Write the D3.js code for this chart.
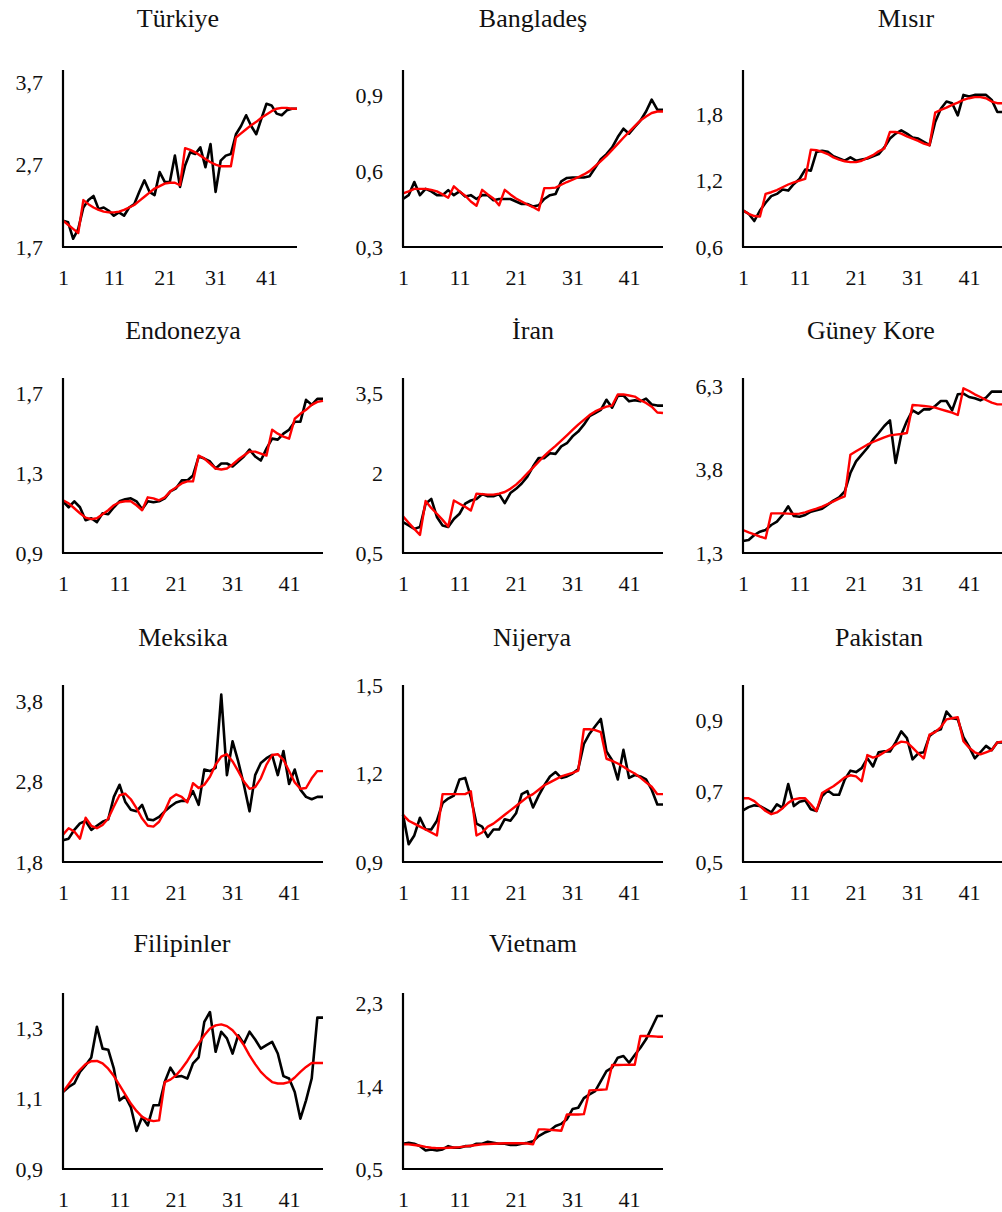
<!DOCTYPE html>
<html>
<head>
<meta charset="utf-8">
<script src="https://cdn.jsdelivr.net/npm/d3@7"></script>
<style>
  body { margin: 0; background: #fff; }
</style>
</head>
<body>
<div id="chart"></div>
<script>
// Country names (panel titles), left to right, top to bottom
const countries = ["Türkiye", "Bangladeş", "Mısır", "Endonezya", "İran", "Güney Kore",
  "Meksika", "Nijerya", "Pakistan", "Filipinler", "Vietnam"];

// Category axis labels
const xTicks = [1, 11, 21, 31, 41];

const turkiyeSeries = [2.02, 2.0, 1.8, 1.92, 2.18, 2.27, 2.32, 2.16, 2.18, 2.14, 2.08, 2.12, 2.08, 2.18, 2.22, 2.37, 2.51, 2.37, 2.33, 2.61, 2.49, 2.49, 2.81, 2.43, 2.69, 2.85, 2.83, 2.91, 2.67, 2.95, 2.37, 2.75, 2.81, 2.83, 3.07, 3.17, 3.3, 3.17, 3.07, 3.26, 3.44, 3.42, 3.32, 3.3, 3.36, 3.38, 3.38];
const turkiyeFit = [2.02, 1.97, 1.92, 1.87, 2.27, 2.22, 2.18, 2.15, 2.13, 2.12, 2.12, 2.13, 2.15, 2.18, 2.21, 2.26, 2.31, 2.36, 2.41, 2.44, 2.47, 2.48, 2.48, 2.45, 2.9, 2.88, 2.85, 2.81, 2.77, 2.73, 2.7, 2.68, 2.68, 2.68, 3.03, 3.08, 3.13, 3.18, 3.22, 3.27, 3.31, 3.35, 3.38, 3.39, 3.39, 3.38, 3.38];
const turkiyeTicks = [1.7, 2.7, 3.7];
const turkiyeMax = 3.85;

const bangladesSeries = [0.49, 0.505, 0.557, 0.505, 0.53, 0.52, 0.505, 0.505, 0.525, 0.505, 0.52, 0.5, 0.505, 0.49, 0.505, 0.505, 0.485, 0.49, 0.49, 0.49, 0.48, 0.47, 0.47, 0.46, 0.465, 0.49, 0.505, 0.51, 0.56, 0.573, 0.575, 0.575, 0.575, 0.58, 0.613, 0.647, 0.667, 0.694, 0.735, 0.768, 0.748, 0.775, 0.8, 0.836, 0.883, 0.843, 0.843];
const bangladesFit = [0.512, 0.52, 0.53, 0.53, 0.53, 0.526, 0.52, 0.508, 0.495, 0.54, 0.52, 0.503, 0.48, 0.463, 0.526, 0.508, 0.492, 0.465, 0.526, 0.508, 0.492, 0.48, 0.468, 0.458, 0.445, 0.533, 0.533, 0.535, 0.546, 0.557, 0.566, 0.576, 0.587, 0.6, 0.62, 0.64, 0.66, 0.684, 0.708, 0.732, 0.755, 0.778, 0.8, 0.816, 0.83, 0.836, 0.836];
const bangladesTicks = [0.3, 0.6, 0.9];
const bangladesMax = 1.0;

const misirSeries = [0.93, 0.9, 0.835, 0.93, 1.0, 1.06, 1.08, 1.12, 1.11, 1.17, 1.215, 1.3, 1.29, 1.46, 1.47, 1.46, 1.42, 1.4, 1.38, 1.41, 1.38, 1.39, 1.4, 1.42, 1.44, 1.5, 1.58, 1.625, 1.655, 1.625, 1.59, 1.58, 1.55, 1.52, 1.73, 1.85, 1.915, 1.9, 1.79, 1.975, 1.96, 1.975, 1.975, 1.975, 1.93, 1.82, 1.82];
const misirFit = [0.93, 0.9, 0.88, 0.875, 1.08, 1.095, 1.115, 1.14, 1.165, 1.185, 1.2, 1.215, 1.48, 1.475, 1.46, 1.44, 1.41, 1.39, 1.375, 1.367, 1.367, 1.38, 1.405, 1.43, 1.465, 1.49, 1.64, 1.64, 1.625, 1.6, 1.58, 1.56, 1.535, 1.52, 1.815, 1.84, 1.86, 1.885, 1.905, 1.93, 1.945, 1.955, 1.955, 1.945, 1.915, 1.9, 1.9];
const misirTicks = [0.6, 1.2, 1.8];
const misirMax = 2.2;

const endonezyaSeries = [1.16, 1.13, 1.16, 1.13, 1.065, 1.075, 1.055, 1.1, 1.095, 1.13, 1.16, 1.17, 1.175, 1.16, 1.12, 1.16, 1.155, 1.16, 1.175, 1.21, 1.225, 1.265, 1.265, 1.29, 1.385, 1.375, 1.36, 1.325, 1.35, 1.35, 1.335, 1.36, 1.385, 1.42, 1.385, 1.365, 1.425, 1.475, 1.47, 1.5, 1.52, 1.56, 1.56, 1.67, 1.645, 1.675, 1.675];
const endonezyaFit = [1.165, 1.15, 1.125, 1.1, 1.078, 1.07, 1.075, 1.095, 1.115, 1.14, 1.155, 1.16, 1.16, 1.14, 1.115, 1.18, 1.175, 1.165, 1.18, 1.21, 1.23, 1.25, 1.26, 1.26, 1.39, 1.375, 1.35, 1.325, 1.32, 1.325, 1.345, 1.37, 1.39, 1.41, 1.41, 1.4, 1.39, 1.52, 1.5, 1.485, 1.475, 1.575, 1.6, 1.62, 1.645, 1.66, 1.665];
const endonezyaTicks = [0.9, 1.3, 1.7];
const endonezyaMax = 1.78;

const iranSeries = [1.08, 1.02, 0.955, 0.99, 1.43, 1.52, 1.18, 1.02, 0.99, 1.14, 1.24, 1.43, 1.49, 1.52, 1.61, 1.57, 1.57, 1.61, 1.44, 1.63, 1.71, 1.81, 1.94, 2.13, 2.29, 2.29, 2.38, 2.37, 2.51, 2.57, 2.7, 2.79, 2.92, 3.08, 3.14, 3.2, 3.39, 3.24, 3.46, 3.47, 3.36, 3.38, 3.36, 3.41, 3.3, 3.28, 3.28];
const iranFit = [1.19, 1.07, 0.955, 0.84, 1.48, 1.35, 1.24, 1.125, 1.0, 1.49, 1.43, 1.37, 1.3, 1.62, 1.61, 1.6, 1.6, 1.62, 1.65, 1.71, 1.79, 1.89, 2.0, 2.11, 2.22, 2.33, 2.43, 2.52, 2.62, 2.72, 2.82, 2.92, 3.01, 3.1, 3.17, 3.22, 3.26, 3.28, 3.49, 3.49, 3.47, 3.45, 3.38, 3.33, 3.26, 3.15, 3.14];
const iranTicks = [0.5, 2, 3.5];
const iranMax = 3.8;

const koreSeries = [1.66, 1.69, 1.84, 1.94, 1.99, 2.14, 2.24, 2.44, 2.7, 2.41, 2.39, 2.44, 2.54, 2.58, 2.63, 2.75, 2.87, 2.97, 3.15, 3.7, 4.05, 4.25, 4.45, 4.7, 4.9, 5.11, 5.28, 4.0, 4.85, 5.26, 5.58, 5.48, 5.61, 5.61, 5.71, 5.86, 5.86, 5.58, 6.06, 6.08, 5.98, 5.94, 5.88, 5.96, 6.14, 6.14, 6.14];
const koreFit = [1.99, 1.92, 1.86, 1.79, 1.74, 2.49, 2.49, 2.49, 2.48, 2.47, 2.48, 2.52, 2.58, 2.63, 2.69, 2.77, 2.85, 2.93, 3.0, 4.25, 4.35, 4.45, 4.55, 4.63, 4.7, 4.77, 4.83, 4.85, 4.87, 4.9, 5.74, 5.73, 5.71, 5.69, 5.66, 5.61, 5.56, 5.51, 5.44, 6.24, 6.16, 6.06, 5.98, 5.89, 5.81, 5.76, 5.76];
const koreTicks = [1.3, 3.8, 6.3];
const koreMax = 6.55;

const meksikaSeries = [2.07, 2.09, 2.2, 2.28, 2.31, 2.2, 2.25, 2.3, 2.33, 2.61, 2.76, 2.55, 2.45, 2.43, 2.51, 2.33, 2.32, 2.36, 2.43, 2.49, 2.54, 2.56, 2.56, 2.68, 2.51, 2.95, 2.93, 2.97, 3.88, 2.88, 3.3, 3.05, 2.76, 2.43, 2.88, 3.03, 3.09, 3.13, 2.88, 3.18, 2.77, 2.95, 2.7, 2.61, 2.58, 2.61, 2.61];
const meksikaFit = [2.14, 2.22, 2.18, 2.09, 2.35, 2.25, 2.22, 2.26, 2.34, 2.49, 2.63, 2.65, 2.58, 2.47, 2.34, 2.25, 2.24, 2.3, 2.43, 2.59, 2.64, 2.61, 2.54, 2.78, 2.72, 2.76, 2.86, 3.01, 3.11, 3.14, 3.05, 2.93, 2.8, 2.71, 2.73, 2.84, 3.01, 3.13, 3.14, 3.07, 2.93, 2.79, 2.71, 2.72, 2.84, 2.93, 2.93];
const meksikaTicks = [1.8, 2.8, 3.8];
const meksikaMax = 4.0;

const nijeryaSeries = [1.06, 0.96, 0.99, 1.05, 1.01, 1.01, 1.04, 1.1, 1.115, 1.125, 1.18, 1.185, 1.12, 1.03, 1.02, 0.985, 1.01, 1.01, 1.045, 1.04, 1.065, 1.13, 1.14, 1.085, 1.125, 1.16, 1.19, 1.205, 1.185, 1.19, 1.2, 1.215, 1.3, 1.335, 1.36, 1.385, 1.275, 1.245, 1.18, 1.28, 1.185, 1.195, 1.19, 1.18, 1.145, 1.095, 1.095];
const nijeryaFit = [1.06, 1.04, 1.03, 1.02, 1.01, 1.0, 0.99, 1.13, 1.13, 1.13, 1.13, 1.13, 1.14, 0.99, 1.0, 1.02, 1.03, 1.045, 1.06, 1.075, 1.09, 1.105, 1.12, 1.13, 1.145, 1.16, 1.17, 1.18, 1.19, 1.196, 1.202, 1.21, 1.35, 1.35, 1.347, 1.34, 1.25, 1.243, 1.234, 1.223, 1.21, 1.2, 1.186, 1.17, 1.155, 1.13, 1.13];
const nijeryaTicks = [0.9, 1.2, 1.5];
const nijeryaMax = 1.5;

const pakistanSeries = [0.646, 0.655, 0.66, 0.658, 0.649, 0.64, 0.663, 0.653, 0.72, 0.658, 0.67, 0.674, 0.649, 0.644, 0.686, 0.702, 0.69, 0.69, 0.733, 0.758, 0.754, 0.765, 0.793, 0.77, 0.81, 0.813, 0.812, 0.838, 0.869, 0.85, 0.79, 0.807, 0.81, 0.856, 0.869, 0.875, 0.925, 0.906, 0.903, 0.853, 0.826, 0.793, 0.81, 0.828, 0.816, 0.838, 0.838];
const pakistanFit = [0.68, 0.68, 0.672, 0.658, 0.644, 0.635, 0.64, 0.652, 0.667, 0.677, 0.68, 0.68, 0.663, 0.644, 0.695, 0.705, 0.714, 0.726, 0.739, 0.745, 0.742, 0.728, 0.802, 0.795, 0.8, 0.81, 0.819, 0.832, 0.84, 0.838, 0.823, 0.807, 0.793, 0.86, 0.867, 0.881, 0.903, 0.906, 0.909, 0.841, 0.823, 0.81, 0.804, 0.81, 0.816, 0.838, 0.84];
const pakistanTicks = [0.5, 0.7, 0.9];
const pakistanMax = 1.0;

const filipinlerSeries = [1.119, 1.133, 1.143, 1.176, 1.195, 1.217, 1.304, 1.242, 1.239, 1.185, 1.095, 1.107, 1.076, 1.008, 1.048, 1.024, 1.081, 1.081, 1.147, 1.188, 1.162, 1.164, 1.157, 1.2, 1.217, 1.318, 1.346, 1.233, 1.29, 1.271, 1.228, 1.28, 1.256, 1.29, 1.268, 1.242, 1.252, 1.261, 1.228, 1.164, 1.157, 1.119, 1.043, 1.095, 1.157, 1.33, 1.33];
const filipinlerFit = [1.119, 1.141, 1.164, 1.182, 1.198, 1.206, 1.207, 1.2, 1.185, 1.164, 1.138, 1.112, 1.086, 1.065, 1.048, 1.04, 1.036, 1.038, 1.147, 1.154, 1.166, 1.185, 1.207, 1.233, 1.256, 1.28, 1.299, 1.308, 1.311, 1.306, 1.294, 1.275, 1.252, 1.223, 1.198, 1.176, 1.16, 1.147, 1.143, 1.143, 1.147, 1.16, 1.176, 1.19, 1.201, 1.201, 1.201];
const filipinlerTicks = [0.9, 1.1, 1.3];
const filipinlerMax = 1.4;

const vietnamSeries = [0.774, 0.785, 0.774, 0.748, 0.7, 0.712, 0.7, 0.712, 0.748, 0.73, 0.73, 0.748, 0.748, 0.774, 0.774, 0.795, 0.785, 0.774, 0.774, 0.76, 0.76, 0.774, 0.785, 0.8, 0.857, 0.893, 0.918, 0.966, 0.99, 1.04, 1.15, 1.165, 1.27, 1.31, 1.346, 1.454, 1.563, 1.6, 1.708, 1.726, 1.653, 1.737, 1.816, 1.907, 2.033, 2.16, 2.16];
const vietnamFit = [0.767, 0.767, 0.76, 0.752, 0.74, 0.73, 0.727, 0.727, 0.73, 0.734, 0.737, 0.745, 0.752, 0.76, 0.767, 0.77, 0.774, 0.777, 0.78, 0.78, 0.78, 0.78, 0.777, 0.767, 0.93, 0.93, 0.925, 0.92, 0.915, 1.092, 1.092, 1.092, 1.095, 1.353, 1.356, 1.36, 1.364, 1.628, 1.628, 1.63, 1.632, 1.632, 1.943, 1.943, 1.94, 1.936, 1.936];
const vietnamTicks = [0.5, 1.4, 2.3];
const vietnamMax = 2.41;

// Page layout: one entry per panel (pixels), kept apart from the data
const colX = [63, 403, 743];
const rowTop = [70, 378, 685, 993];
const rowBottom = [247, 553, 862, 1169];
const titleX = [178, 533, 906, 183, 533, 871, 183, 532, 879, 182, 533];
const titleY = [27, 339, 646, 952];
const plotWidths = [234, 260, 260, 260, 260, 260, 260, 260, 260, 260, 260];

const seriesList = [turkiyeSeries, bangladesSeries, misirSeries, endonezyaSeries, iranSeries,
  koreSeries, meksikaSeries, nijeryaSeries, pakistanSeries, filipinlerSeries, vietnamSeries];
const fitList = [turkiyeFit, bangladesFit, misirFit, endonezyaFit, iranFit, koreFit,
  meksikaFit, nijeryaFit, pakistanFit, filipinlerFit, vietnamFit];
const tickList = [turkiyeTicks, bangladesTicks, misirTicks, endonezyaTicks, iranTicks,
  koreTicks, meksikaTicks, nijeryaTicks, pakistanTicks, filipinlerTicks, vietnamTicks];
const maxList = [turkiyeMax, bangladesMax, misirMax, endonezyaMax, iranMax, koreMax,
  meksikaMax, nijeryaMax, pakistanMax, filipinlerMax, vietnamMax];

const width = 1002, height = 1212;
const serif = "'Liberation Serif', 'Times New Roman', serif";
const fmt = (v) => String(v).replace(".", ",");

const svg = d3.select("#chart").append("svg")
  .attr("width", width)
  .attr("height", height);

countries.forEach((name, i) => {
  const col = i % 3, row = Math.floor(i / 3);
  const left = colX[col];
  const top = rowTop[row], bottom = rowBottom[row];
  const values = seriesList[i];
  const fit = fitList[i];
  const ticks = tickList[i];

  const x = d3.scaleLinear()
    .domain([1, values.length])
    .range([left, left + plotWidths[i]]);
  const y = d3.scaleLinear()
    .domain([ticks[0], maxList[i]])
    .range([bottom, top]);

  const g = svg.append("g");

  // Title
  g.append("text")
    .attr("x", titleX[i])
    .attr("y", titleY[row])
    .attr("text-anchor", "middle")
    .style("font-family", serif)
    .style("font-size", "26px")
    .attr("fill", "#111")
    .text(name);

  // Lines: observed (black) then fitted (red) on top
  const line = d3.line()
    .x((d, k) => x(k + 1))
    .y((d) => y(d));

  g.append("path")
    .datum(values)
    .attr("fill", "none")
    .attr("stroke", "#000")
    .attr("stroke-width", 2.6)
    .attr("stroke-linejoin", "round")
    .attr("d", line);

  g.append("path")
    .datum(fit)
    .attr("fill", "none")
    .attr("stroke", "#ff0000")
    .attr("stroke-width", 2.4)
    .attr("stroke-linejoin", "round")
    .attr("d", line);

  // Y axis: line plus labels, no tick marks
  const yAxis = g.append("g")
    .attr("transform", `translate(${left},0)`)
    .call(d3.axisLeft(y).tickValues(ticks).tickSize(0).tickPadding(20).tickFormat(fmt));
  yAxis.select(".domain").attr("stroke", "#000").attr("stroke-width", 2.2)
    .attr("d", `M0,${top}V${bottom}`);
  yAxis.selectAll("text")
    .style("font-family", serif)
    .style("font-size", "22px")
    .attr("fill", "#111");

  // X axis: line plus category labels
  const xAxis = g.append("g")
    .attr("transform", `translate(0,${bottom})`)
    .call(d3.axisBottom(x).tickValues(xTicks).tickSize(0).tickPadding(22).tickFormat(d3.format("d")));
  xAxis.select(".domain").attr("stroke", "#000").attr("stroke-width", 2.2)
    .attr("d", `M${left - 1},0H${left + plotWidths[i]}`);
  xAxis.selectAll("text")
    .style("font-family", serif)
    .style("font-size", "22px")
    .attr("fill", "#111");
});
</script>
</body>
</html>
